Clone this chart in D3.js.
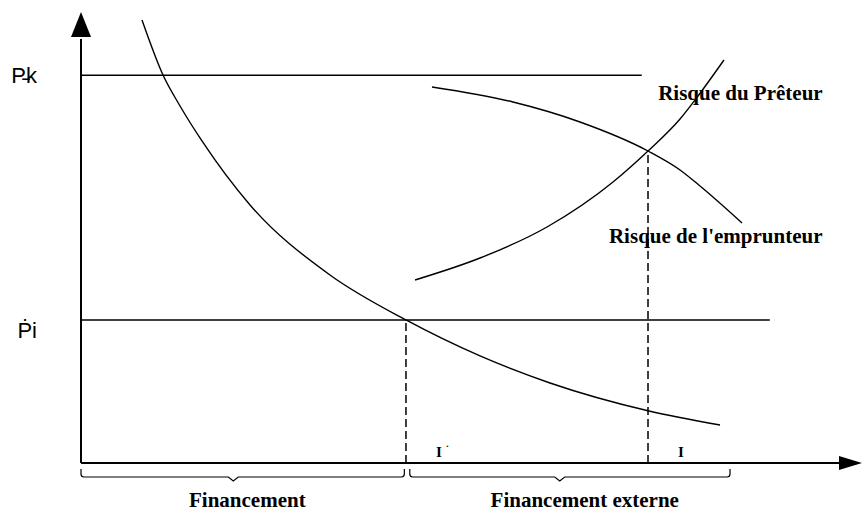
<!DOCTYPE html>
<html>
<head>
<meta charset="utf-8">
<script src="https://cdn.jsdelivr.net/npm/d3@7"></script>
<style>
  body { margin: 0; background: #fff; }
  svg { display: block; }
  .lbl { font-family: "Liberation Serif", "Times New Roman", serif; font-weight: bold; fill: #000; }
  .tick text { font-family: "Liberation Sans", Arial, sans-serif; font-size: 22px; fill: #000; }
</style>
</head>
<body>
<div id="canvas"></div>
<script>
// levels on the vertical axis
var niveaux = ['P\u0335k', '\u1E56i'];
var niveauY = [8.60, 3.171];
var niveauFin = [7.18, 8.82];

// investment levels on the horizontal axis
var invest = ['I', 'I'];
var investStar = [true, false];
var investX = [4.161, 7.260];
var investTop = [3.171, 6.918];

// big descending curve
var coutX = [0.781, 1.050, 1.268, 1.549, 2.164, 3.188, 4.161, 5.109, 6.005, 7.273, 8.182];
var coutY = [9.823, 8.603, 7.916, 7.140, 5.721, 4.169, 3.171, 2.373, 1.774, 1.153, 0.843];

// risque du preteur (rising)
var preteurX = [4.277, 5.109, 5.967, 6.812, 7.260, 7.670, 7.862, 8.233];
var preteurY = [4.058, 4.545, 5.233, 6.231, 6.918, 7.627, 8.049, 8.936];

// risque de l'emprunteur (falling)
var emprunteurX = [4.494, 5.531, 6.389, 7.260, 7.670, 7.926, 8.464];
var emprunteurY = [8.337, 8.004, 7.561, 6.918, 6.497, 6.142, 5.322];

// braces under the x axis
var accolades = ['Financement', 'Financement externe'];
var accDebut = [0, 4.21];
var accFin = [4.14, 8.31];
var accMilieu = [1.95, 6.13];
var accTexte = [2.13, 6.45];

var W = 865, H = 513;
var svg = d3.select('#canvas').append('svg')
    .attr('width', W).attr('height', H);

var x = d3.scaleLinear().domain([0, 10]).range([81, 862]);
var y = d3.scaleLinear().domain([0, 10]).range([463, 12]);

var line = d3.line()
    .x(function(d){ return x(d[0]); })
    .y(function(d){ return y(d[1]); })
    .curve(d3.curveMonotoneX);

// axes with arrows
svg.append('line')
    .attr('x1', x(0)).attr('y1', y(0))
    .attr('x2', x(0)).attr('y2', y(9.4))
    .attr('stroke', '#000').attr('stroke-width', 2);
svg.append('line')
    .attr('x1', x(0)).attr('y1', y(0))
    .attr('x2', x(9.75)).attr('y2', y(0))
    .attr('stroke', '#000').attr('stroke-width', 2);
svg.append('path')
    .attr('d', 'M' + x(0) + ',' + y(10) + 'L' + (x(0) - 10) + ',' + (y(10) + 25) + 'L' + (x(0) + 10) + ',' + (y(10) + 25) + 'Z')
    .attr('fill', '#000');
svg.append('path')
    .attr('d', 'M' + x(10) + ',' + y(0) + 'L' + (x(10) - 23) + ',' + (y(0) - 7) + 'L' + (x(10) - 23) + ',' + (y(0) + 7) + 'Z')
    .attr('fill', '#000');

// level labels through a left axis
var axisY = d3.axisLeft(y)
    .tickValues(niveauY)
    .tickSize(0)
    .tickPadding(44)
    .tickFormat(function(d, i){ return niveaux[i]; });
var gy = svg.append('g').attr('transform', 'translate(' + x(0) + ',0)').call(axisY);
gy.select('.domain').remove();
gy.selectAll('.tick text')
    .attr('dy', function(d, i){ return i === 0 ? '0.32em' : '0.80em'; });

// horizontal level lines
svg.selectAll('.niveau')
    .data(niveauY)
    .enter().append('line')
    .attr('class', 'niveau')
    .attr('x1', x(0))
    .attr('x2', function(d, i){ return x(niveauFin[i]); })
    .attr('y1', function(d){ return y(d); })
    .attr('y2', function(d){ return y(d); })
    .attr('stroke', '#000').attr('stroke-width', 1.5);

// dashed verticals
svg.selectAll('.pointille')
    .data(investX)
    .enter().append('line')
    .attr('class', 'pointille')
    .attr('x1', function(d){ return x(d); })
    .attr('x2', function(d){ return x(d); })
    .attr('y1', y(0))
    .attr('y2', function(d, i){ return y(investTop[i]); })
    .attr('stroke', '#000').attr('stroke-width', 1.5)
    .attr('stroke-dasharray', '8,4');

// curves
var courbes = [
  d3.zip(coutX, coutY),
  d3.zip(preteurX, preteurY),
  d3.zip(emprunteurX, emprunteurY)
];
svg.selectAll('.courbe')
    .data(courbes)
    .enter().append('path')
    .attr('class', 'courbe')
    .attr('d', line)
    .attr('fill', 'none')
    .attr('stroke', '#000').attr('stroke-width', 1.4);

// curve labels
svg.append('text').attr('class', 'lbl').attr('font-size', 21)
    .attr('x', x(7.39)).attr('y', y(8.05)).text('Risque du Prêteur');
svg.append('text').attr('class', 'lbl').attr('font-size', 21)
    .attr('x', x(6.76)).attr('y', y(4.88)).text("Risque de l'emprunteur");

// I labels
var il = svg.selectAll('.ilab')
    .data(invest)
    .enter().append('text')
    .attr('class', 'lbl ilab')
    .attr('font-size', 15)
    .attr('x', function(d, i){ return x(investX[i]) + 30; })
    .attr('y', y(0) - 6)
    .text(function(d){ return d; });
il.filter(function(d, i){ return investStar[i]; })
    .append('tspan')
    .attr('dx', 4).attr('dy', -4)
    .attr('font-size', 10)
    .text('\u02D9');

// braces
function accolade(a, b, m) {
  var y0 = y(0) + 6, y1 = y(0) + 14, r = 3;
  return 'M' + x(a) + ',' + y0 +
    'L' + x(a) + ',' + (y1 - r) +
    'Q' + x(a) + ',' + y1 + ' ' + (x(a) + r) + ',' + y1 +
    'L' + (x(m) - 5) + ',' + y1 +
    'L' + x(m) + ',' + (y1 + 4) +
    'L' + (x(m) + 5) + ',' + y1 +
    'L' + (x(b) - r) + ',' + y1 +
    'Q' + x(b) + ',' + y1 + ' ' + x(b) + ',' + (y1 - r) +
    'L' + x(b) + ',' + y0;
}
svg.selectAll('.accolade')
    .data(accolades)
    .enter().append('path')
    .attr('class', 'accolade')
    .attr('d', function(d, i){ return accolade(accDebut[i], accFin[i], accMilieu[i]); })
    .attr('fill', 'none')
    .attr('stroke', '#000').attr('stroke-width', 1.2);
svg.selectAll('.accLab')
    .data(accolades)
    .enter().append('text')
    .attr('class', 'lbl accLab')
    .attr('font-size', 21)
    .attr('text-anchor', 'middle')
    .attr('x', function(d, i){ return x(accTexte[i]); })
    .attr('y', y(0) + 44)
    .text(function(d){ return d; });
</script>
</body>
</html>
